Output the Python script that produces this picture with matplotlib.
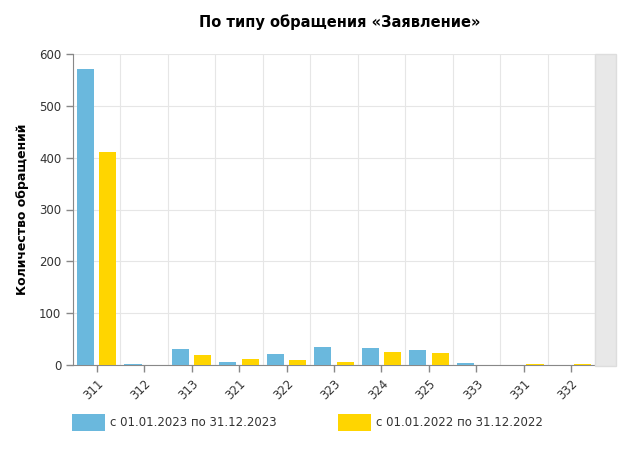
import numpy as np
import matplotlib.pyplot as plt
from matplotlib.patches import Rectangle

categories = ["311", "312", "313", "321", "322", "323", "324", "325", "333", "331", "332"]
values_2023 = [571, 2, 31, 6, 21, 35, 33, 29, 4, 0, 0]
values_2022 = [411, 0, 19, 12, 10, 6, 25, 23, 0, 2, 2]
label_2023 = "с 01.01.2023 по 31.12.2023"
label_2022 = "с 01.01.2022 по 31.12.2022"

blue = "#6ab8dd"
yellow = "#ffd500"
text_col = "#333333"

W, H = 634, 450
fig = plt.figure(figsize=(W / 100, H / 100), dpi=100)
ax = fig.add_axes([73 / W, (H - 365) / H, (595 - 73) / W, (365 - 54) / H])

x = np.arange(len(categories))
bw = 0.36
ax.bar(x - 0.235, values_2023, bw, color=blue, zorder=3)
ax.bar(x + 0.235, values_2022, bw, color=yellow, zorder=3)

ax.set_xlim(-0.5, len(categories) - 0.5)
ax.set_ylim(0, 600)
ax.set_yticks(range(0, 601, 100))
ax.set_xticks(x)
ax.set_xticklabels(categories, rotation=45, ha="right", rotation_mode="anchor")
ax.set_xticks(np.arange(len(categories) + 1) - 0.5, minor=True)

ax.grid(axis="y", color="#e6e6e6", linewidth=0.8, zorder=0)
ax.grid(axis="x", which="minor", color="#e6e6e6", linewidth=0.8, zorder=0)
ax.tick_params(axis="x", which="minor", length=0)
ax.tick_params(axis="both", which="major", colors="#888888", labelcolor=text_col,
               labelsize=8.5, length=5, width=1)

for s in ["top", "right"]:
    ax.spines[s].set_visible(False)
for s in ["left", "bottom"]:
    ax.spines[s].set_color("#888888")

ax.set_ylabel("Количество обращений", fontsize=9, fontweight="bold", color="black")
ax.yaxis.set_label_coords(-0.085, 0.5)

fig.text(340 / W, 1 - 22 / H, "По типу обращения «Заявление»", ha="center", va="center",
         fontsize=10.5, fontweight="bold", color="black")

# grey scrollbar-like box on the right
fig.add_artist(Rectangle((595 / W, (H - 366) / H), 21 / W, 312 / H,
                         transform=fig.transFigure, facecolor="#e8e8e8",
                         edgecolor="#dddddd", linewidth=1))

# legend
fig.add_artist(Rectangle((72 / W, (H - 431) / H), 33 / W, 17 / H,
                         transform=fig.transFigure, facecolor=blue, edgecolor="none"))
fig.text(110 / W, 1 - 422 / H, label_2023, ha="left", va="center", fontsize=8.5, color=text_col)
fig.add_artist(Rectangle((338 / W, (H - 431) / H), 33 / W, 17 / H,
                         transform=fig.transFigure, facecolor=yellow, edgecolor="none"))
fig.text(376 / W, 1 - 422 / H, label_2022, ha="left", va="center", fontsize=8.5, color=text_col)

fig.savefig("out.png", dpi=100)
